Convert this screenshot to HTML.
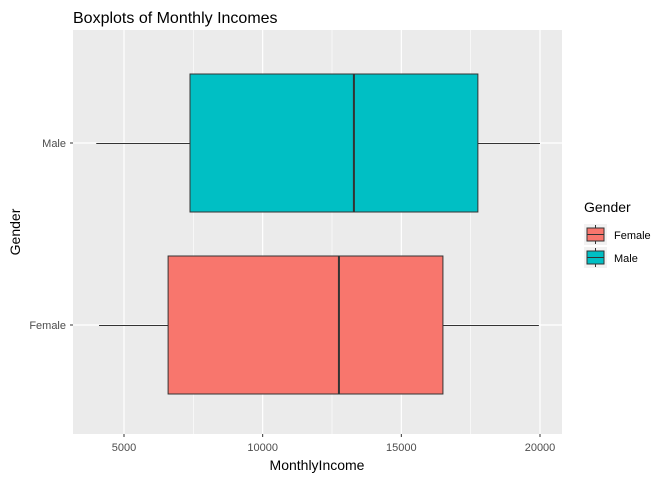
<!DOCTYPE html>
<html><head><meta charset="utf-8"><style>body{margin:0;background:#fff}svg{display:block}text{font-family:"Liberation Sans",sans-serif}</style></head>
<body>
<svg id="c" width="672" height="480"></svg>
<script>
const categories=["Female","Male"];
const mins=[4100,4000];
const q1s=[6590,7380];
const medians=[12750,13290];
const q3s=[16500,17760];
const maxs=[19960,20000];
const colors=["#F8766D","#00BFC4"];
const xTicks=[5000,10000,15000,20000];
const xMinor=[7500,12500,17500];
const svg=document.getElementById('c');
const NS="http://www.w3.org/2000/svg";
const L=73,R=562,T=30,B=434;
const x=v=>124+(v-5000)*(540-124)/15000;
const y=i=>[325,143][i];
function add(tag,attrs,txt){const e=document.createElementNS(NS,tag);for(const k in attrs)e.setAttribute(k,attrs[k]);if(txt!==undefined)e.textContent=txt;svg.appendChild(e);return e;}
let e=add('rect',{x:L,y:T,width:R-L,height:B-T,fill:'#EBEBEB'});


xMinor.forEach(v=>{add('line',{x1:x(v),x2:x(v),y1:T,y2:B,stroke:'#fff','stroke-width':0.6});});
xTicks.forEach(v=>{add('line',{x1:x(v),x2:x(v),y1:T,y2:B,stroke:'#fff','stroke-width':1.2});
 const t=add('text',{x:x(v),y:451,'text-anchor':'middle','font-size':11,fill:'#4D4D4D'},String(v));
 
 
 add('line',{x1:x(v),x2:x(v),y1:B,y2:B+3,stroke:'#333'});});
categories.forEach((c,i)=>{add('line',{x1:L,x2:R,y1:y(i),y2:y(i),stroke:'#fff','stroke-width':1.2});
 const t=add('text',{x:66,y:y(i)+4,'text-anchor':'end','font-size':11,fill:'#4D4D4D'},c);
 
 
 add('line',{x1:L-3,x2:L,y1:y(i),y2:y(i),stroke:'#333'});
 const yc=y(i),h=69;
 add('line',{x1:x(mins[i]),x2:x(q1s[i]),y1:yc+0.5,y2:yc+0.5,stroke:'#333'});
 add('line',{x1:x(q3s[i]),x2:x(maxs[i]),y1:yc+0.5,y2:yc+0.5,stroke:'#333'});
 const b=add('rect',{x:x(q1s[i]),y:yc-h,width:x(q3s[i])-x(q1s[i]),height:2*h,fill:colors[i],stroke:'#333','stroke-width':1});
 
 
 add('line',{x1:x(medians[i]),x2:x(medians[i]),y1:yc-h,y2:yc+h,stroke:'#333','stroke-width':2});
});
e=add('text',{x:73,y:23,'font-size':16,fill:'#000'},'Boxplots of Monthly Incomes');

e=add('text',{x:317,y:470,'text-anchor':'middle','font-size':14,fill:'#000'},'MonthlyIncome');

e=add('text',{x:20,y:232,'text-anchor':'middle','font-size':14,fill:'#000',transform:'rotate(-90 20 232)'},'Gender');

e=add('text',{x:584,y:212,'font-size':14,fill:'#000'},'Gender');

categories.forEach((c,i)=>{const ky=224+i*23;
 add('rect',{x:584,y:ky,width:23,height:21,fill:'#F2F2F2'});
 add('line',{x1:595.5,x2:595.5,y1:ky+1,y2:ky+20,stroke:'#333'});
 const k=add('rect',{x:587,y:ky+4,width:17,height:13,fill:colors[i],stroke:'#333'});
 
 
 add('line',{x1:587,x2:604,y1:ky+10.5,y2:ky+10.5,stroke:'#333'});
 const t=add('text',{x:614,y:ky+15,'font-size':11,fill:'#000'},c);
 
 });
</script>
</body></html>
